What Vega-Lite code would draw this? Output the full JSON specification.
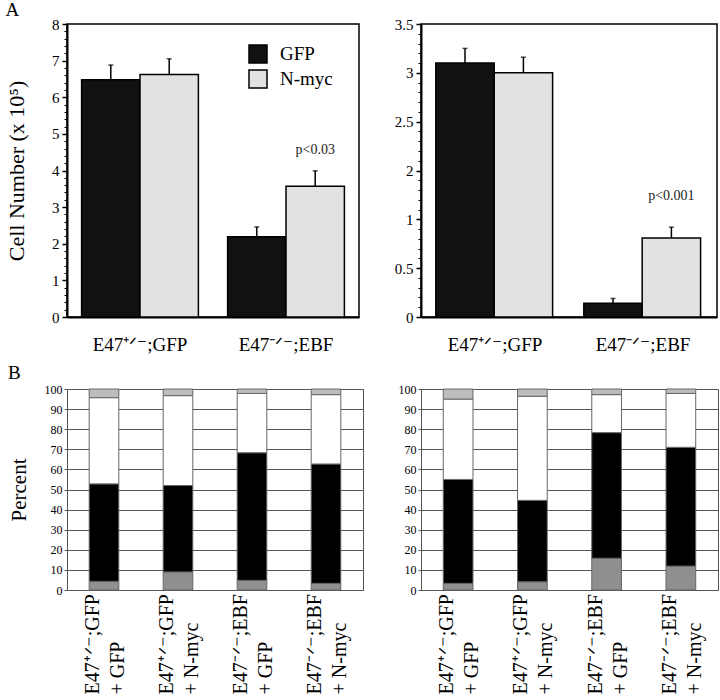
{
  "$schema": "https://vega.github.io/schema/vega-lite/v6.json",
  "description": "Cell numbers (A) and percent composition (B) for E47 lines transduced with GFP or N-myc.",
  "padding": {"left": 4, "top": 0, "right": 0, "bottom": 0},
  "config": {
    "font": "Liberation Serif",
    "axis": {
      "labelColor": "black", "titleColor": "black", "domainColor": "black", "tickColor": "black",
      "titleFontWeight": "normal", "labelFont": "Liberation Serif", "titleFont": "Liberation Serif", "grid": false
    },
    "title": {"fontWeight": "normal", "color": "black", "font": "Liberation Serif"},
    "text": {"font": "Liberation Serif"}
  },
  "datasets": {
    "countsLeft": [
      {"line": "E47⁺ᐟ⁻;GFP", "treatment": "GFP", "cells": 6.48, "upper": 6.88},
      {"line": "E47⁺ᐟ⁻;GFP", "treatment": "N-myc", "cells": 6.62, "upper": 7.05},
      {"line": "E47⁻ᐟ⁻;EBF", "treatment": "GFP", "cells": 2.19, "upper": 2.46},
      {"line": "E47⁻ᐟ⁻;EBF", "treatment": "N-myc", "cells": 3.57, "upper": 3.99}
    ],
    "countsRight": [
      {"line": "E47⁺ᐟ⁻;GFP", "treatment": "GFP", "cells": 3.1, "upper": 3.25},
      {"line": "E47⁺ᐟ⁻;GFP", "treatment": "N-myc", "cells": 3.0, "upper": 3.16},
      {"line": "E47⁻ᐟ⁻;EBF", "treatment": "GFP", "cells": 0.14, "upper": 0.19},
      {"line": "E47⁻ᐟ⁻;EBF", "treatment": "N-myc", "cells": 0.81, "upper": 0.92}
    ],
    "pctLeft": [
      {"condition": "E47⁺ᐟ⁻;GFP\n+ GFP", "fraction": 1, "percent": 4.3},
      {"condition": "E47⁺ᐟ⁻;GFP\n+ GFP", "fraction": 2, "percent": 48.5},
      {"condition": "E47⁺ᐟ⁻;GFP\n+ GFP", "fraction": 3, "percent": 42.9},
      {"condition": "E47⁺ᐟ⁻;GFP\n+ GFP", "fraction": 4, "percent": 4.3},
      {"condition": "E47⁺ᐟ⁻;GFP\n+ N-myc", "fraction": 1, "percent": 9.0},
      {"condition": "E47⁺ᐟ⁻;GFP\n+ N-myc", "fraction": 2, "percent": 43.0},
      {"condition": "E47⁺ᐟ⁻;GFP\n+ N-myc", "fraction": 3, "percent": 44.7},
      {"condition": "E47⁺ᐟ⁻;GFP\n+ N-myc", "fraction": 4, "percent": 3.3},
      {"condition": "E47⁻ᐟ⁻;EBF\n+ GFP", "fraction": 1, "percent": 4.8},
      {"condition": "E47⁻ᐟ⁻;EBF\n+ GFP", "fraction": 2, "percent": 63.5},
      {"condition": "E47⁻ᐟ⁻;EBF\n+ GFP", "fraction": 3, "percent": 29.5},
      {"condition": "E47⁻ᐟ⁻;EBF\n+ GFP", "fraction": 4, "percent": 2.2},
      {"condition": "E47⁻ᐟ⁻;EBF\n+ N-myc", "fraction": 1, "percent": 3.3},
      {"condition": "E47⁻ᐟ⁻;EBF\n+ N-myc", "fraction": 2, "percent": 59.4},
      {"condition": "E47⁻ᐟ⁻;EBF\n+ N-myc", "fraction": 3, "percent": 34.5},
      {"condition": "E47⁻ᐟ⁻;EBF\n+ N-myc", "fraction": 4, "percent": 2.8}
    ],
    "pctRight": [
      {"condition": "E47⁺ᐟ⁻;GFP\n+ GFP", "fraction": 1, "percent": 3.3},
      {"condition": "E47⁺ᐟ⁻;GFP\n+ GFP", "fraction": 2, "percent": 51.7},
      {"condition": "E47⁺ᐟ⁻;GFP\n+ GFP", "fraction": 3, "percent": 40.0},
      {"condition": "E47⁺ᐟ⁻;GFP\n+ GFP", "fraction": 4, "percent": 5.0},
      {"condition": "E47⁺ᐟ⁻;GFP\n+ N-myc", "fraction": 1, "percent": 4.1},
      {"condition": "E47⁺ᐟ⁻;GFP\n+ N-myc", "fraction": 2, "percent": 40.5},
      {"condition": "E47⁺ᐟ⁻;GFP\n+ N-myc", "fraction": 3, "percent": 51.8},
      {"condition": "E47⁺ᐟ⁻;GFP\n+ N-myc", "fraction": 4, "percent": 3.6},
      {"condition": "E47⁻ᐟ⁻;EBF\n+ GFP", "fraction": 1, "percent": 15.8},
      {"condition": "E47⁻ᐟ⁻;EBF\n+ GFP", "fraction": 2, "percent": 62.5},
      {"condition": "E47⁻ᐟ⁻;EBF\n+ GFP", "fraction": 3, "percent": 18.9},
      {"condition": "E47⁻ᐟ⁻;EBF\n+ GFP", "fraction": 4, "percent": 2.8},
      {"condition": "E47⁻ᐟ⁻;EBF\n+ N-myc", "fraction": 1, "percent": 11.9},
      {"condition": "E47⁻ᐟ⁻;EBF\n+ N-myc", "fraction": 2, "percent": 59.1},
      {"condition": "E47⁻ᐟ⁻;EBF\n+ N-myc", "fraction": 3, "percent": 26.8},
      {"condition": "E47⁻ᐟ⁻;EBF\n+ N-myc", "fraction": 4, "percent": 2.2}
    ]
  },
  "columns": 2,
  "bounds": "flush",
  "spacing": {"row": 72, "column": 58},
  "resolve": {"scale": {"fill": "independent"}, "legend": {"fill": "independent"}},
  "concat": [
    {
      "width": 292,
      "height": 293,
      "title": {"text": "A", "anchor": "start", "fontSize": 19, "offset": 0, "dy": 3},
      "view": {"stroke": "black", "strokeWidth": 1.5},
      "data": {"name": "countsLeft"},
      "encoding": {
        "x": {
          "field": "line", "type": "nominal",
          "scale": {"domain": ["E47⁺ᐟ⁻;GFP", "E47⁻ᐟ⁻;EBF"], "paddingInner": 0.2, "paddingOuter": 0.1},
          "axis": {"title": null, "labelAngle": 0, "labelFontSize": 19, "labelPadding": 18, "ticks": false, "domainWidth": 2}
        },
        "xOffset": {"field": "treatment", "type": "nominal", "scale": {"domain": ["GFP", "N-myc"], "paddingInner": 0, "paddingOuter": 0}}
      },
      "layer": [
        {
          "mark": {"type": "bar", "stroke": "black", "strokeWidth": 1.5},
          "encoding": {
            "y": {
              "field": "cells", "type": "quantitative",
              "scale": {"domain": [0, 8], "nice": false},
              "axis": {"title": "Cell Number (x 10⁵)", "values": [0, 1, 2, 3, 4, 5, 6, 7, 8], "titleFontSize": 22, "labelFontSize": 15, "tickSize": 5, "tickWidth": 1.5, "labelPadding": 3, "titlePadding": 23, "domainWidth": 2}
            },
            "fill": {
              "field": "treatment", "type": "nominal",
              "scale": {"domain": ["GFP", "N-myc"], "range": ["#111111", "#e2e2e2"]},
              "legend": {
                "orient": "none", "legendX": 181, "legendY": 20, "title": null,
                "symbolType": "square", "symbolSize": 324, "symbolStrokeColor": "black", "symbolStrokeWidth": 1.5,
                "labelFontSize": 19, "labelOffset": 12, "rowPadding": 1, "labelFont": "Liberation Serif", "labelColor": "black"
              }
            }
          }
        },
        {
          "mark": {"type": "rule", "strokeWidth": 1.5, "color": "black"},
          "encoding": {
            "y": {
              "field": "cells", "type": "quantitative",
              "axis": {"orient": "left", "title": null, "labels": false, "domain": false, "tickSize": 3, "values": [0, 0.2, 0.4, 0.6, 0.8, 1, 1.2, 1.4, 1.6, 1.8, 2, 2.2, 2.4, 2.6, 2.8, 3, 3.2, 3.4, 3.6, 3.8, 4, 4.2, 4.4, 4.6, 4.8, 5, 5.2, 5.4, 5.6, 5.8, 6, 6.2, 6.4, 6.6, 6.8, 7, 7.2, 7.4, 7.6, 7.8, 8]}
            },
            "y2": {"field": "upper"}
          }
        },
        {
          "mark": {"type": "tick", "thickness": 1.5, "size": 5, "color": "black"},
          "encoding": {"y": {"field": "upper", "type": "quantitative", "axis": null}}
        },
        {
          "data": {"values": [{"line": "E47⁻ᐟ⁻;EBF", "treatment": "N-myc", "at": 4.55, "note": "p<0.03"}]},
          "mark": {"type": "text", "fontSize": 14, "baseline": "middle", "color": "#222222"},
          "encoding": {"y": {"field": "at", "type": "quantitative", "axis": null}, "text": {"field": "note"}}
        }
      ],
      "resolve": {"axis": {"y": "independent"}}
    },
    {
      "width": 296,
      "height": 293,
      "view": {"stroke": "black", "strokeWidth": 1.5},
      "data": {"name": "countsRight"},
      "encoding": {
        "x": {
          "field": "line", "type": "nominal",
          "scale": {"domain": ["E47⁺ᐟ⁻;GFP", "E47⁻ᐟ⁻;EBF"], "paddingInner": 0.2, "paddingOuter": 0.1},
          "axis": {"title": null, "labelAngle": 0, "labelFontSize": 19, "labelPadding": 18, "ticks": false, "domainWidth": 2}
        },
        "xOffset": {"field": "treatment", "type": "nominal", "scale": {"domain": ["GFP", "N-myc"], "paddingInner": 0, "paddingOuter": 0}}
      },
      "layer": [
        {
          "mark": {"type": "bar", "stroke": "black", "strokeWidth": 1.5},
          "encoding": {
            "y": {
              "field": "cells", "type": "quantitative",
              "scale": {"domain": [0, 1, 2, 3.5], "range": [293, 195.33, 146.5, 0], "nice": false, "zero": false},
              "axis": {"title": null, "values": [0, 0.5, 1, 2, 2.5, 3, 3.5], "format": "~g", "labelFontSize": 15, "tickSize": 5, "tickWidth": 1.5, "labelPadding": 3, "domainWidth": 2}
            },
            "fill": {
              "field": "treatment", "type": "nominal",
              "scale": {"domain": ["GFP", "N-myc"], "range": ["#111111", "#e2e2e2"]},
              "legend": null
            }
          }
        },
        {
          "mark": {"type": "rule", "strokeWidth": 1.5, "color": "black"},
          "encoding": {
            "y": {
              "field": "cells", "type": "quantitative",
              "axis": {"orient": "left", "title": null, "labels": false, "domain": false, "tickSize": 3, "values": [0, 0.1, 0.2, 0.3, 0.4, 0.5, 0.6, 0.7, 0.8, 0.9, 1, 1.2, 1.4, 1.6, 1.8, 2, 2.1, 2.2, 2.3, 2.4, 2.5, 2.6, 2.7, 2.8, 2.9, 3, 3.1, 3.2, 3.3, 3.4, 3.5]}
            },
            "y2": {"field": "upper"}
          }
        },
        {
          "mark": {"type": "tick", "thickness": 1.5, "size": 5, "color": "black"},
          "encoding": {"y": {"field": "upper", "type": "quantitative", "axis": null}}
        },
        {
          "data": {"values": [{"line": "E47⁻ᐟ⁻;EBF", "treatment": "N-myc", "at": 1.47, "note": "p<0.001"}]},
          "mark": {"type": "text", "fontSize": 14, "baseline": "middle", "color": "#222222"},
          "encoding": {"y": {"field": "at", "type": "quantitative", "axis": null}, "text": {"field": "note"}}
        }
      ],
      "resolve": {"axis": {"y": "independent"}}
    },
    {
      "width": 296,
      "height": 201,
      "title": {"text": "B", "anchor": "start", "fontSize": 19, "offset": 0},
      "view": {"stroke": "#555555", "strokeWidth": 1},
      "data": {"name": "pctLeft"},
      "mark": {"type": "bar", "stroke": "#666666", "strokeWidth": 1},
      "encoding": {
        "x": {
          "field": "condition", "type": "nominal",
          "scale": {"domain": ["E47⁺ᐟ⁻;GFP\n+ GFP", "E47⁺ᐟ⁻;GFP\n+ N-myc", "E47⁻ᐟ⁻;EBF\n+ GFP", "E47⁻ᐟ⁻;EBF\n+ N-myc"], "paddingInner": 0.6, "paddingOuter": 0.3},
          "axis": {"title": null, "labelAngle": -90, "labelAlign": "left", "labelBaseline": "middle", "labelPadding": 104, "labelOffset": -11, "labelExpr": "split(datum.label, '\\n')", "labelLineHeight": 25, "labelFontSize": 20, "ticks": false, "domain": false}
        },
        "y": {
          "field": "percent", "type": "quantitative", "stack": "zero",
          "scale": {"domain": [0, 100], "nice": false},
          "axis": {"title": "Percent", "values": [0, 10, 20, 30, 40, 50, 60, 70, 80, 90, 100], "grid": true, "gridColor": "#555555", "gridOpacity": 1, "domainColor": "#555555", "tickColor": "#555555", "labelFontSize": 12, "titleFontSize": 21, "tickSize": 3, "labelPadding": 2, "titlePadding": 15}
        },
        "fill": {
          "field": "fraction", "type": "nominal",
          "scale": {"domain": [1, 2, 3, 4], "range": ["#8f8f8f", "#000000", "#ffffff", "#bdbdbd"]},
          "legend": null
        },
        "order": {"field": "fraction", "type": "quantitative"}
      }
    },
    {
      "width": 297,
      "height": 201,
      "view": {"stroke": "#555555", "strokeWidth": 1},
      "data": {"name": "pctRight"},
      "mark": {"type": "bar", "stroke": "#666666", "strokeWidth": 1},
      "encoding": {
        "x": {
          "field": "condition", "type": "nominal",
          "scale": {"domain": ["E47⁺ᐟ⁻;GFP\n+ GFP", "E47⁺ᐟ⁻;GFP\n+ N-myc", "E47⁻ᐟ⁻;EBF\n+ GFP", "E47⁻ᐟ⁻;EBF\n+ N-myc"], "paddingInner": 0.6, "paddingOuter": 0.3},
          "axis": {"title": null, "labelAngle": -90, "labelAlign": "left", "labelBaseline": "middle", "labelPadding": 104, "labelOffset": -11, "labelExpr": "split(datum.label, '\\n')", "labelLineHeight": 25, "labelFontSize": 20, "ticks": false, "domain": false}
        },
        "y": {
          "field": "percent", "type": "quantitative", "stack": "zero",
          "scale": {"domain": [0, 100], "nice": false},
          "axis": {"title": null, "values": [0, 10, 20, 30, 40, 50, 60, 70, 80, 90, 100], "grid": true, "gridColor": "#555555", "gridOpacity": 1, "domainColor": "#555555", "tickColor": "#555555", "labelFontSize": 12, "tickSize": 3, "labelPadding": 2}
        },
        "fill": {
          "field": "fraction", "type": "nominal",
          "scale": {"domain": [1, 2, 3, 4], "range": ["#8f8f8f", "#000000", "#ffffff", "#bdbdbd"]},
          "legend": null
        },
        "order": {"field": "fraction", "type": "quantitative"}
      }
    }
  ]
}
